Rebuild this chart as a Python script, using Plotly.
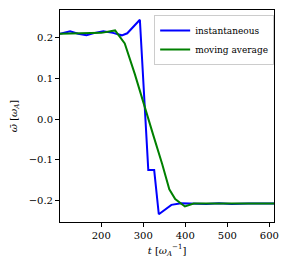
import plotly.graph_objects as go

t_inst = [102, 115, 126, 145, 165, 185, 205, 228, 249, 262, 275, 292, 312, 326, 337, 350, 367, 390, 420, 450, 480, 510, 550, 580, 611]
w_inst = [0.209, 0.212, 0.215, 0.209, 0.205, 0.211, 0.215, 0.211, 0.205, 0.210, 0.225, 0.243, -0.125, -0.125, -0.233, -0.222, -0.210, -0.206, -0.207, -0.208, -0.206, -0.208, -0.207, -0.207, -0.207]

t_avg = [102, 130, 160, 200, 233, 256, 280, 300, 324, 345, 362, 376, 399, 420, 450, 500, 550, 611]
w_avg = [0.209, 0.210, 0.210, 0.211, 0.217, 0.185, 0.110, 0.040, -0.040, -0.110, -0.172, -0.196, -0.214, -0.207, -0.207, -0.207, -0.207, -0.207]

x_ticks = [200, 300, 400, 500, 600]
y_ticks = [-0.2, -0.1, 0.0, 0.1, 0.2]

font = dict(family="DejaVu Serif", size=10, color="black")
lfont = dict(family="DejaVu Serif", size=9, color="black")

fig = go.Figure()
fig.add_trace(go.Scatter(x=t_inst, y=w_inst, mode="lines", name="instantaneous",
                         line=dict(color="#0000ff", width=2)))
fig.add_trace(go.Scatter(x=t_avg, y=w_avg, mode="lines", name="moving average",
                         line=dict(color="#008000", width=2)))

axis_common = dict(showline=True, linecolor="black", linewidth=1, mirror=True,
                   showgrid=False, zeroline=False, ticks="outside", ticklen=4,
                   tickcolor="black", tickfont=font)

# page body has an 8px default margin, so the figure is made 8px smaller
fig.update_layout(
    width=281, height=262,
    margin=dict(l=52, r=15, t=2, b=48),
    paper_bgcolor="white", plot_bgcolor="white",
    font=font,
    xaxis=dict(range=[102, 611], tickvals=x_ticks,
               title=dict(text="<i>t</i> [<i>ω</i><sub><i>A</i></sub><sup>−1</sup>]", font=font, standoff=6),
               **axis_common),
    yaxis=dict(range=[-0.252, 0.267], tickvals=y_ticks, tickformat=".1f",
               title=dict(text="<i>ω̄</i> [<i>ω</i><sub><i>A</i></sub>]", font=font, standoff=10),
               **axis_common),
    legend=dict(x=0.44, y=0.976, xanchor="left", yanchor="top",
                bgcolor="rgba(255,255,255,0.8)", bordercolor="#cccccc", borderwidth=1,
                font=lfont, tracegroupgap=0, itemwidth=30),
    showlegend=True,
)

fig.write_html("out.html")
